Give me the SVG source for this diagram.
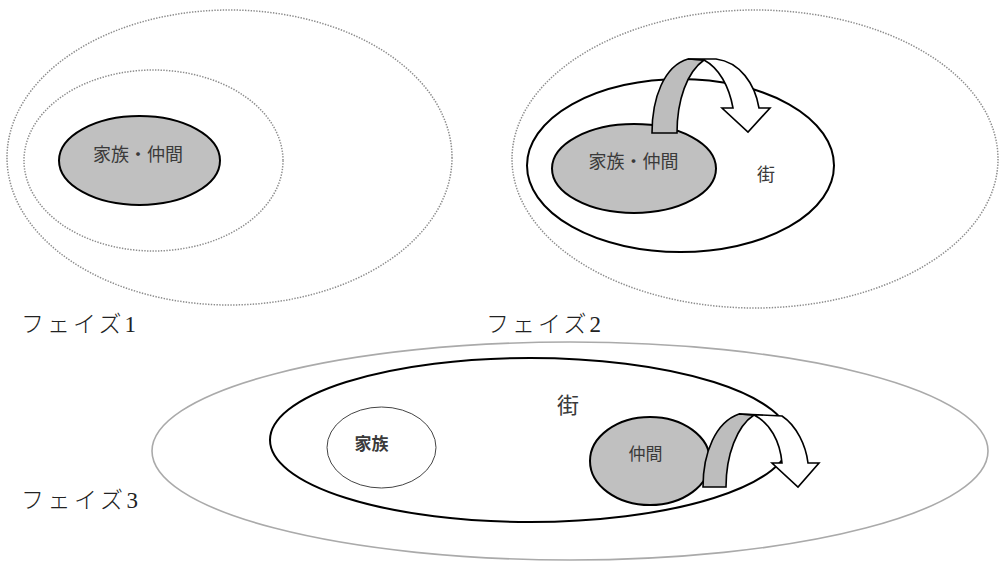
<svg xmlns="http://www.w3.org/2000/svg" width="999" height="561" viewBox="0 0 999 561">
  <style>
    .dotted { fill: none; stroke: #8c8c8c; stroke-width: 1.5; stroke-dasharray: 1.4 1.4; }
    .town { fill: #fff; stroke: #000; stroke-width: 2; }
    .group { fill: #c0c0c0; stroke: #000; stroke-width: 2; }
    .halo { fill: none; stroke: #aaa; stroke-width: 1.6; }
    .family { fill: #fff; stroke: #444; stroke-width: 1; }
    .band-back { fill: #bdbdbd; stroke: #000; stroke-width: 1.6; stroke-linejoin: miter; }
    .band-front { fill: #fff; stroke: #000; stroke-width: 1.6; stroke-linejoin: miter; }
    .lbl { font-family: "Noto Sans CJK JP", sans-serif; fill: #3a3a3a; text-anchor: middle; }
    .phase { font-family: "Liberation Serif", "Noto Sans CJK JP", serif; font-size: 23px; font-weight: 300; fill: #222; }
  </style>

  <!-- Phase 1: family/friends inside two undefined dotted spheres -->
  <g id="phase1">
    <ellipse class="dotted" cx="229.5" cy="157.5" rx="222.5" ry="147.5"/>
    <ellipse class="dotted" cx="153.5" cy="160.5" rx="129.5" ry="90.5"/>
    <g id="p1-core">
      <ellipse class="group" cx="139.5" cy="160.5" rx="80.5" ry="44.5"/>
      <text class="lbl" x="138" y="160.5" font-size="18">家族・仲間</text>
    </g>
    <text class="phase" x="21" y="332" textLength="115" lengthAdjust="spacing">フェイズ1</text>
  </g>

  <!-- Phase 2: stepping out of family/friends into the town -->
  <g id="phase2">
    <ellipse class="dotted" cx="755" cy="159" rx="243" ry="149"/>
    <g id="p2-town">
      <ellipse class="town" cx="680.5" cy="165.5" rx="153.5" ry="86.5"/>
      <text class="lbl" x="766" y="180.5" font-size="18" fill="#111">街</text>
    </g>
    <g id="p2-core">
      <ellipse class="group" cx="634" cy="168.5" rx="82" ry="44.5"/>
      <text class="lbl" x="633.5" y="168" font-size="18">家族・仲間</text>
    </g>
    <text class="phase" x="486" y="332" textLength="115" lengthAdjust="spacing">フェイズ2</text>
  </g>

  <!-- Phase 3: family and friends as separate circles within the town -->
  <g id="phase3">
    <ellipse class="halo" cx="570" cy="451" rx="418" ry="109"/>
    <g id="p3-town">
      <ellipse class="town" cx="530" cy="440" rx="260" ry="82"/>
      <text class="lbl" x="568" y="413" font-size="22" fill="#111">街</text>
    </g>
    <g id="p3-family">
      <ellipse class="family" cx="381.5" cy="447.5" rx="54.5" ry="40.5"/>
      <text class="lbl" x="371.5" y="449.5" font-size="17" font-weight="700" fill="#000">家族</text>
    </g>
    <g id="p3-friends">
      <ellipse class="group" cx="650" cy="461" rx="60" ry="44"/>
      <text class="lbl" x="645.5" y="459.5" font-size="17">仲間</text>
    </g>
    <text class="phase" x="21" y="508" textLength="117" lengthAdjust="spacing">フェイズ3</text>
  </g>

  <!-- Curved ribbon arrows leading outward -->
  <g id="connectors">
    <g id="arrow-p2">
      <path class="band-back" d="M652,133 C652,98 664,66 688,59 L704,60 C687,72 677,100 677,133 Z"/>
      <path class="band-front" d="M688,59 L716,59 C740,62 755,84 759,108 L770,108 L748,132 L722,108 L733,108 C729,86 719,68 704,60 Z"/>
    </g>
    <g id="arrow-p3">
      <path class="band-back" d="M703,487 C703,452 716,422 739,414 L754,415 C737,426 726,455 726,487 Z"/>
      <path class="band-front" d="M739,414 L782,416 C797,426 806,446 808,463 L819,463 L798,487 L772,463 L782,463 C780,441 770,423 754,415 Z"/>
    </g>
  </g>
</svg>
